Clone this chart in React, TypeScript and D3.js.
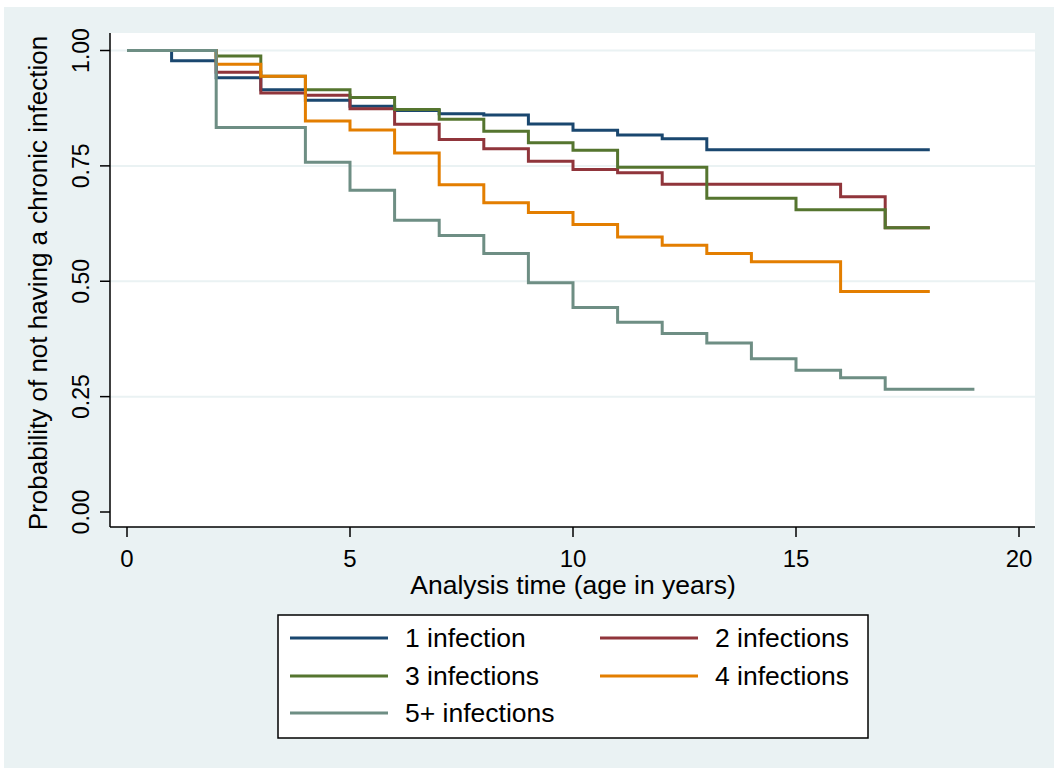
import * as d3 from "d3";

// Kaplan-Meier step estimates (time in years -> survival)
const oneTimes = [0, 1, 2, 3, 4, 5, 6, 7, 8, 9, 10, 11, 12, 13, 18];
const oneVals = [1, 0.978, 0.941, 0.915, 0.892, 0.879, 0.87, 0.863, 0.86, 0.841, 0.827, 0.817, 0.809, 0.785, 0.785];

const twoTimes = [0, 2, 3, 4, 5, 6, 7, 8, 9, 10, 11, 12, 16, 17, 18];
const twoVals = [1, 0.953, 0.908, 0.903, 0.874, 0.84, 0.807, 0.787, 0.76, 0.742, 0.735, 0.71, 0.683, 0.616, 0.616];

const threeTimes = [0, 2, 3, 4, 5, 6, 7, 8, 9, 10, 11, 13, 15, 17, 18];
const threeVals = [1, 0.988, 0.944, 0.915, 0.898, 0.872, 0.851, 0.825, 0.8, 0.784, 0.747, 0.68, 0.655, 0.616, 0.616];

const fourTimes = [0, 2, 3, 4, 5, 6, 7, 8, 9, 10, 11, 12, 13, 14, 16, 18];
const fourVals = [1, 0.97, 0.944, 0.847, 0.828, 0.778, 0.709, 0.67, 0.649, 0.623, 0.596, 0.578, 0.56, 0.542, 0.478, 0.478];

const fiveTimes = [0, 2, 4, 5, 6, 7, 8, 9, 10, 11, 12, 13, 14, 15, 16, 17, 19];
const fiveVals = [1, 0.833, 0.758, 0.697, 0.632, 0.599, 0.56, 0.497, 0.443, 0.411, 0.387, 0.366, 0.332, 0.307, 0.291, 0.266, 0.266];

const seriesNames = ["1 infection", "2 infections", "3 infections", "4 infections", "5+ infections"];
const seriesColors = ["#1a476f", "#90353b", "#55752f", "#e37e00", "#6e8e84"];

const xTicks = [0, 5, 10, 15, 20];
const yTicks = [0, 0.25, 0.5, 0.75, 1];
const yGrid = [0.25, 0.5, 0.75, 1];

const FONT = "'Liberation Sans', Arial, Helvetica, sans-serif";

export default function App() {
  const width = 1058;
  const height = 772;

  const plot = { left: 110, right: 1035, top: 33, bottom: 527 };
  const x = d3.scaleLinear().domain([0, 20]).range([127, 1019]);
  const y = d3.scaleLinear().domain([0, 1]).range([512, 50.5]);

  const allSeries = [
    { times: oneTimes, vals: oneVals },
    { times: twoTimes, vals: twoVals },
    { times: threeTimes, vals: threeVals },
    { times: fourTimes, vals: fourVals },
    { times: fiveTimes, vals: fiveVals }
  ].map((s, i) => ({
    name: seriesNames[i],
    color: seriesColors[i],
    points: s.times.map((t, j) => [t, s.vals[j]] as [number, number])
  }));

  const line = d3
    .line<[number, number]>()
    .x((d) => x(d[0]))
    .y((d) => y(d[1]))
    .curve(d3.curveStepAfter);

  // legend layout: two columns, three rows
  const legend = { x: 278, y: 615, w: 590, h: 123 };
  const legendCols = [290, 600];
  const legendRows = [638, 676, 713];

  return (
    <svg
      width={width}
      height={height}
      style={{ position: "absolute", left: 0, top: 0, fontFamily: FONT }}
    >
      <rect x={0} y={0} width={width} height={height} fill="#ffffff" />
      <rect x={4} y={7} width={1050} height={761} fill="#eaf2f3" />
      <rect
        x={plot.left}
        y={plot.top}
        width={plot.right - plot.left}
        height={plot.bottom - plot.top}
        fill="#ffffff"
      />

      {yGrid.map((v) => (
        <line
          key={v}
          x1={plot.left}
          x2={plot.right}
          y1={y(v)}
          y2={y(v)}
          stroke="#eaf2f3"
          strokeWidth={2}
        />
      ))}

      {allSeries.map((s) => (
        <path
          key={s.name}
          d={line(s.points) || ""}
          fill="none"
          stroke={s.color}
          strokeWidth={3}
          strokeLinejoin="miter"
        />
      ))}

      {/* y axis */}
      <line x1={plot.left} x2={plot.left} y1={plot.top} y2={plot.bottom} stroke="#000" strokeWidth={1.5} />
      {yTicks.map((v) => (
        <g key={v}>
          <line x1={plot.left - 10} x2={plot.left} y1={y(v)} y2={y(v)} stroke="#000" strokeWidth={1.5} />
          <text
            transform={`translate(89,${y(v)}) rotate(-90)`}
            textAnchor="middle"
            fontSize={23}
            fill="#000"
          >
            {v.toFixed(2)}
          </text>
        </g>
      ))}
      <text
        transform={`translate(47,283) rotate(-90)`}
        textAnchor="middle"
        fontSize={26}
        fill="#000"
      >
        Probability of not having a chronic infection
      </text>

      {/* x axis */}
      <line x1={plot.left} x2={plot.right} y1={plot.bottom} y2={plot.bottom} stroke="#000" strokeWidth={1.5} />
      {xTicks.map((t) => (
        <g key={t}>
          <line x1={x(t)} x2={x(t)} y1={plot.bottom} y2={plot.bottom + 10} stroke="#000" strokeWidth={1.5} />
          <text x={x(t)} y={567} textAnchor="middle" fontSize={24} fill="#000">
            {t}
          </text>
        </g>
      ))}
      <text x={573} y={594} textAnchor="middle" fontSize={26.5} fill="#000">
        Analysis time (age in years)
      </text>

      {/* legend */}
      <rect
        x={legend.x}
        y={legend.y}
        width={legend.w}
        height={legend.h}
        fill="#ffffff"
        stroke="#000"
        strokeWidth={1.5}
      />
      {allSeries.map((s, i) => {
        const cx = legendCols[i % 2];
        const cy = legendRows[Math.floor(i / 2)];
        return (
          <g key={s.name}>
            <line x1={cx} x2={cx + 98} y1={cy} y2={cy} stroke={s.color} strokeWidth={3} />
            <text x={cx + 115} y={cy + 9} fontSize={26.5} fill="#000">
              {s.name}
            </text>
          </g>
        );
      })}
    </svg>
  );
}
